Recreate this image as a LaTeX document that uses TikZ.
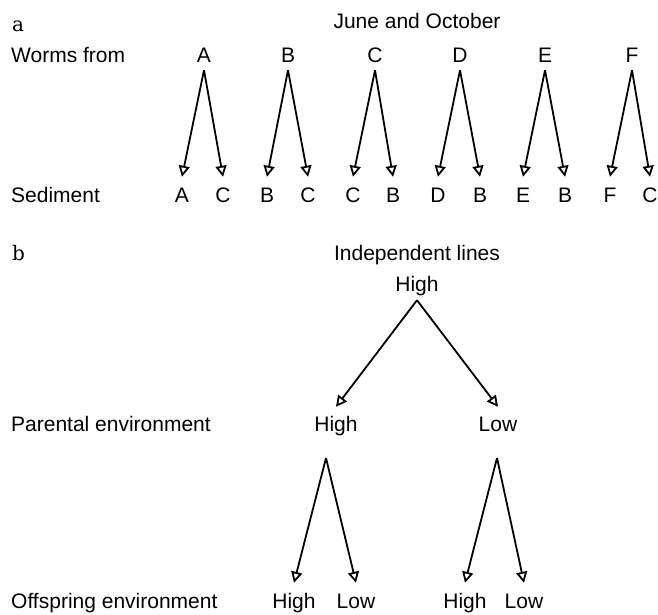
\documentclass[tikz,border=0pt]{standalone}
\usepackage{fontspec}
\setsansfont{Liberation Sans}
\newfontfamily\panelfont{DejaVu Serif}
\usetikzlibrary{arrows.meta}
\begin{document}
\begin{tikzpicture}[x=1pt,y=-1pt,
  every node/.style={font=\sffamily\fontsize{21}{25}\selectfont, inner sep=0pt},
  lbl/.style={anchor=base west},
  ttl/.style={anchor=base},
  toplet/.style={anchor=base, text height=15pt, text depth=0pt, inner ysep=8pt},
  botlet/.style={anchor=base, text height=15pt, text depth=0pt, inner ysep=10pt},
  topword/.style={anchor=base, text height=15pt, text depth=4.5pt, inner ysep=4.5pt},
  midword/.style={anchor=base, text height=15pt, text depth=4.5pt, inner ysep=9pt},
  botword/.style={anchor=base, text height=15pt, text depth=4.5pt, inner ysep=10pt},
  panel/.style={anchor=base west, font=\panelfont\fontsize{20}{24}\selectfont},
  arr/.style={-{Triangle[open,length=11pt,width=11pt]}, line width=1.8pt, line join=miter}
]
\useasboundingbox (0,0) rectangle (658,614);
% panel a
\node[panel] (pa) at (12,31) {a};
\node[ttl] (june) at (417,28) {June and October};
\node[lbl] (worms) at (11,62) {Worms from};
\node[lbl] (sed) at (11,202) {Sediment};
\foreach \n/\t/\x/\la/\lx/\ra/\rx in {A/A/204/A/182/C/223, B/B/288/B/267/C/308, C/C/375/C/353/B/393, D/D/460/D/438/B/480, E/E/545/E/523/B/565, F/F/632/F/610/C/650}{
  \node[toplet] (t\n) at (\x,62) {\t};
  \node[botlet] (l\n) at (\lx,202) {\la};
  \node[botlet] (r\n) at (\rx,202) {\ra};
  \draw[arr] (t\n.south) -- (l\n.north);
  \draw[arr] (t\n.south) -- (r\n.north);
}
% panel b
\node[panel] (pb) at (12,260) {b};
\node[ttl] (indep) at (417,260) {Independent lines};
\node[topword] (h0) at (417,291) {High};
\node[lbl] (par) at (11,431) {Parental environment};
\node[midword] (h1) at (336,431) {High};
\node[midword] (l1) at (498,431) {Low};
\draw[arr] (h0.south) -- (h1.north);
\draw[arr] (h0.south) -- (l1.north);
\node[lbl] (off) at (11,608) {Offspring environment};
\coordinate (p1) at (326,458);
\coordinate (p2) at (497,458);
\node[botword] (hh) at (294,608) {High};
\node[botword] (hl) at (356,608) {Low};
\node[botword] (lh) at (465,608) {High};
\node[botword] (ll) at (524,608) {Low};
\draw[arr] (p1) -- (hh.north);
\draw[arr] (p1) -- (hl.north);
\draw[arr] (p2) -- (lh.north);
\draw[arr] (p2) -- (ll.north);
\end{tikzpicture}
\end{document}
